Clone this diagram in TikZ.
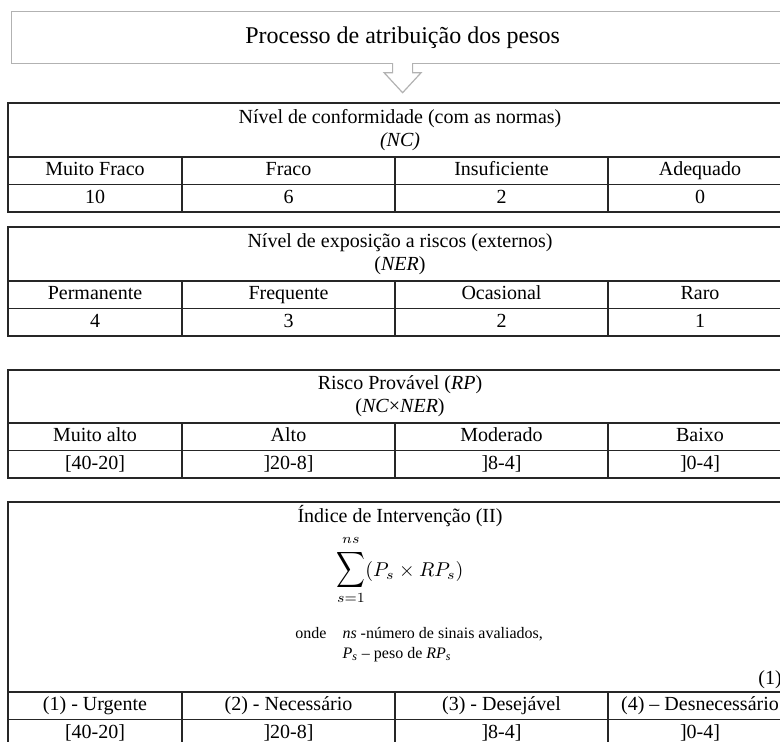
\documentclass[tikz,border=0pt]{standalone}
\usepackage{graphicx}
\usepackage{fontspec}
\setmainfont{Liberation Serif}
\usetikzlibrary{positioning}

\begin{document}
\begin{tikzpicture}[
    x = 0.5pt, y = -0.5pt, % one unit = one pixel of the scan, y downwards
    node distance = 0pt, % table cells touch each other
    every node/.style = {font=\fontsize{10}{11.5}\selectfont},
    cell/.style = {draw=black!85, line width=0.8pt, inner sep=0pt, outer sep=0pt, minimum height=13.75pt},
    rowcell/.style = {cell, text height=7pt, text depth=2.2pt},
    leftcell/.style = {rowcell, minimum width=87pt},
    midcell/.style = {rowcell, minimum width=106.5pt},
    rightcell/.style = {rowcell, minimum width=92pt},
    headcell/.style = {cell, minimum width=392pt, minimum height=27pt, align=center},
    titlebox/.style = {draw=gray!60, line width=0.6pt, minimum width=391pt, minimum height=26pt, font=\fontsize{12}{14}\selectfont},
    arrowline/.style = {draw=gray!60, fill=white, line width=0.6pt}
    ]

    \useasboundingbox (0,0) rectangle (780,742);
    \clip (0,0) rectangle (780,742);

    % title and hollow arrow
    \node[titlebox, anchor=north west] (title) at (11,11) {Processo de atribuição dos pesos};
    \filldraw[arrowline] ([xshift=-5pt,yshift=0.5pt]title.south) -- ++(0,9.5) -- ++(-8.5,0)
        -- ++(18.5,20) -- ++(18.5,-20) -- ++(-8.5,0) -- ++(0,-9.5);

    % NC
    \node[headcell, anchor=north west] (nchead) at (8,103) {Nível de conformidade (com as normas)\\\textit{(NC)}};
    \node[leftcell, anchor=north west] (nc1) at (nchead.south west) {Muito Fraco};
    \node[midcell, right=of nc1] (nc2) {Fraco};
    \node[midcell, right=of nc2] (nc3) {Insuficiente};
    \node[rightcell, right=of nc3] (nc4) {Adequado};
    \node[leftcell, below=of nc1] (ncv1) {10};
    \node[midcell, below=of nc2] (ncv2) {6};
    \node[midcell, below=of nc3] (ncv3) {2};
    \node[rightcell, below=of nc4] (ncv4) {0};

    % NER
    \node[headcell, anchor=north west] (nerhead) at (8,227) {Nível de exposição a riscos (externos)\\(\textit{NER})};
    \node[leftcell, anchor=north west] (ner1) at (nerhead.south west) {Permanente};
    \node[midcell, right=of ner1] (ner2) {Frequente};
    \node[midcell, right=of ner2] (ner3) {Ocasional};
    \node[rightcell, right=of ner3] (ner4) {Raro};
    \node[leftcell, below=of ner1] (nerv1) {4};
    \node[midcell, below=of ner2] (nerv2) {3};
    \node[midcell, below=of ner3] (nerv3) {2};
    \node[rightcell, below=of ner4] (nerv4) {1};

    % RP
    \node[headcell, anchor=north west, minimum height=26.5pt] (rphead) at (8,370) {Risco Provável (\textit{RP})\\(\textit{NC}×\textit{NER})};
    \node[leftcell, anchor=north west] (rp1) at (rphead.south west) {Muito alto};
    \node[midcell, right=of rp1] (rp2) {Alto};
    \node[midcell, right=of rp2] (rp3) {Moderado};
    \node[rightcell, right=of rp3] (rp4) {Baixo};
    \node[leftcell, below=of rp1] (rpv1) {[40-20]};
    \node[midcell, below=of rp2] (rpv2) {]20-8]};
    \node[midcell, below=of rp3] (rpv3) {]8-4]};
    \node[rightcell, below=of rp4] (rpv4) {]0-4]};

    % II
    \node[headcell, anchor=north west, minimum height=95pt] (iihead) at (8,502) {};
    \node[anchor=base, inner sep=1pt] (iititle) at ([yshift=-10pt]iihead.north) {Índice de Intervenção (II)};
    \node[inner sep=0pt] (iisum) at ([yshift=-34pt]iihead.north)
        {$\displaystyle\mathop{\scalebox{1}[1.25]{$\displaystyle\sum$}}\limits_{s=1}^{\rule[-2pt]{0pt}{2pt}ns}(P_s\times RP_s)$};
    \node[anchor=west, align=left, inner sep=0pt, font=\fontsize{8}{10}\selectfont] (iinote) at (295,645)
        {onde\quad\textit{ns} -número de sinais avaliados,\\\phantom{onde\quad}\textit{P}\textsubscript{\textit{s}} – peso de \textit{RP}\textsubscript{\textit{s}}};
    \node[anchor=west, inner sep=0pt] (eqno) at (758,680) {(1)};
    \node[leftcell, anchor=north west] (ii1) at (iihead.south west) {(1) - Urgente};
    \node[midcell, right=of ii1] (ii2) {(2) - Necessário};
    \node[midcell, right=of ii2] (ii3) {(3) - Desejável};
    \node[rightcell, right=of ii3] (ii4) {(4) – Desnecessário};
    \node[leftcell, below=of ii1] (iiv1) {[40-20]};
    \node[midcell, below=of ii2] (iiv2) {]20-8]};
    \node[midcell, below=of ii3] (iiv3) {]8-4]};
    \node[rightcell, below=of ii4] (iiv4) {]0-4]};
\end{tikzpicture}
\end{document}
